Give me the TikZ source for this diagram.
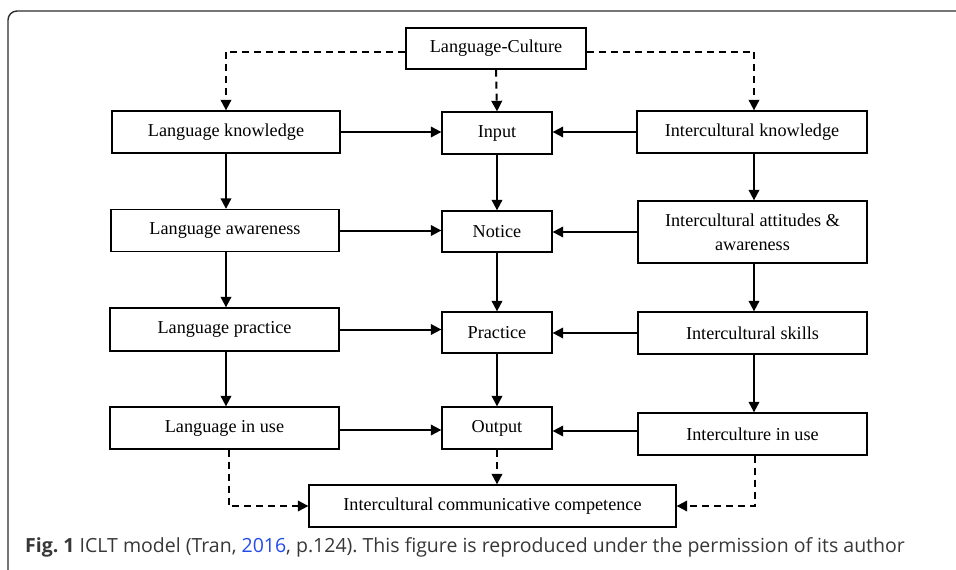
\documentclass[tikz,border=0pt]{standalone}
\usepackage{fontspec}
\setmainfont{Liberation Serif}
\newfontfamily\capfont{Open Sans}
\usetikzlibrary{arrows.meta,calc}
\definecolor{linkblue}{RGB}{35,75,235}
\definecolor{capgray}{RGB}{55,55,55}
\definecolor{framegray}{RGB}{45,45,45}
\frenchspacing
\begin{document}
\begin{tikzpicture}[x=1pt,y=-1pt,
  box/.style={draw,line width=1.3pt,inner sep=0pt,align=center,font=\fontsize{18.2}{24}\selectfont},
  conn/.style={line width=2pt,-{Triangle[length=10.5pt,width=10.5pt]}},
  dconn/.style={conn,dash pattern=on 7pt off 5pt}]
\useasboundingbox (0,0) rectangle (956,570);
\draw[framegray,line width=1.4pt,rounded corners=9pt] (8,570) -- (8,11) -- (956,11);

\node[box,minimum width=180pt,minimum height=41pt] (lc) at (496,48.5) {Language-Culture};

\node[box,minimum width=228pt,minimum height=42pt] (lk) at (226,132) {Language knowledge};
\node[box,minimum width=228pt,minimum height=42pt] (la) at (225,230.5) {Language awareness};
\node[box,minimum width=229pt,minimum height=43pt] (lp) at (224.5,329.5) {Language practice};
\node[box,minimum width=229pt,minimum height=42pt] (liu) at (224.5,428) {Language in use};

\node[box,minimum width=110pt,minimum height=42pt] (in) at (497,133) {Input};
\node[box,minimum width=110pt,minimum height=41pt] (no) at (497,231.5) {Notice};
\node[box,minimum width=110pt,minimum height=41pt] (pr) at (497,332.5) {Practice};
\node[box,minimum width=110pt,minimum height=42pt] (out) at (497,428) {Output};

\node[box,minimum width=230pt,minimum height=42pt] (ik) at (752,132) {Intercultural knowledge};
\node[box,minimum width=229pt,minimum height=62pt] (iaa) at (752.5,232) {Intercultural attitudes \&\\awareness};
\node[box,minimum width=229pt,minimum height=42pt] (is) at (752.5,333) {Intercultural skills};
\node[box,minimum width=229pt,minimum height=42pt] (iiu) at (752.5,434) {Interculture in use};

\node[box,minimum width=367pt,minimum height=42pt] (icc) at (492.5,506) {Intercultural communicative competence};

% helper coordinates
\coordinate (lcw) at ($(lc.west)+(0,3)$);
\coordinate (lce) at ($(lc.east)+(0,3)$);
\coordinate (rx) at ($(ik.south)+(2,0)$);
\coordinate (lx) at ($(liu.south)+(4,0)$);
\coordinate (ry) at ($(iiu.south)+(2,0)$);
\coordinate (liue) at ($(liu.east)+(0,2)$);
\coordinate (iiuw) at ($(iiu.west)+(0,-3)$);

% dashed top connectors
\draw[dconn] (lcw) -| (lk.north);
\draw[dconn] (lce) -| (rx |- ik.north);
\draw[dconn] (lc.south) -- (in.north);

% left column
\draw[conn] (lk.south) -- (lk.south |- la.north);
\draw[conn] (lk.south |- la.south) -- (lk.south |- lp.north);
\draw[conn] (lk.south |- lp.south) -- (lk.south |- liu.north);
% center column
\draw[conn] (in.south) -- (no.north);
\draw[conn] (no.south) -- (pr.north);
\draw[conn] (pr.south) -- (out.north);
% right column
\draw[conn] (rx) -- (rx |- iaa.north);
\draw[conn] (rx |- iaa.south) -- (rx |- is.north);
\draw[conn] (rx |- is.south) -- (rx |- iiu.north);

% horizontal connectors
\draw[conn] (lk.east) -- (lk.east -| in.west);
\draw[conn] (la.east) -- (la.east -| no.west);
\draw[conn] (lp.east) -- (lp.east -| pr.west);
\draw[conn] (liue) -- (liue -| out.west);
\draw[conn] (ik.west) -- (ik.west -| in.east);
\draw[conn] (iaa.west) -- (iaa.west -| no.east);
\draw[conn] (is.west) -- (is.west -| pr.east);
\draw[conn] (iiuw) -- (iiuw -| out.east);

% dashed bottom connectors
\draw[dconn] (lx) |- (icc.west);
\draw[dconn] (out.south) -- (out.south |- icc.north);
\draw[dconn] (ry) |- (icc.east);

\node[anchor=base west,inner sep=0pt,text=capgray,font=\capfont\fontsize{19.5}{22}\selectfont] (cap) at (25,552)
  {\textbf{Fig. 1} ICLT model (Tran, \textcolor{linkblue}{2016}, p.124). This figure is reproduced under the permission of its author};
\end{tikzpicture}
\end{document}
